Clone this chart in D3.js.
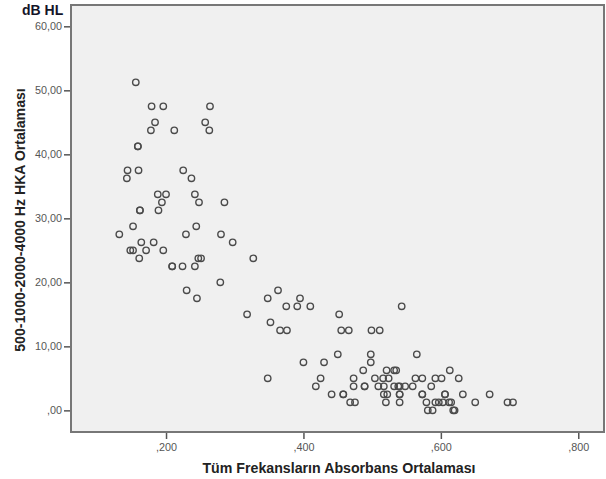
<!DOCTYPE html>
<html><head><meta charset="utf-8">
<script src="https://cdn.jsdelivr.net/npm/d3@7"></script>
<style>body{margin:0;background:#fff}svg{display:block}</style>
</head><body>
<script>
// Absorbance mean (x) and PTA mean dB HL (y)
const absorbans = [
0.156,0.179,0.196,0.264,0.184,0.178,0.212,0.257,0.263,0.159,0.159,
0.144,0.160,0.143,0.225,0.237,0.188,0.200,0.242,0.194,0.248,0.285,
0.162,0.162,0.189,0.152,0.244,0.132,0.229,0.280,0.164,0.182,0.297,
0.148,0.152,0.171,0.196,0.161,0.247,0.251,0.327,0.209,0.209,0.224,0.242,
0.279,0.230,0.245,0.348,0.363,0.395,0.375,0.391,0.410,0.318,0.352,0.348,
0.366,0.376,0.452,0.543,0.455,0.466,0.499,0.511,
0.400,0.430,0.450,0.498,0.498,0.565,
0.487,0.521,0.532,0.535,0.613,
0.425,0.473,0.504,0.516,0.524,0.563,0.573,0.592,0.601,0.626,
0.418,0.473,0.489,0.489,0.509,0.517,0.532,0.538,0.540,0.548,0.559,0.586,
0.441,0.458,0.458,0.517,0.522,0.540,0.540,0.573,0.573,0.606,0.606,0.632,0.671,
0.468,0.475,0.520,0.540,0.579,0.592,0.597,0.603,0.612,0.615,0.650,0.697,0.705,
0.581,0.588,0.618,0.620
];
const hka = [
51.25,47.5,47.5,47.5,45,43.75,43.75,45,43.75,41.25,41.25,
37.5,37.5,36.25,37.5,36.25,33.75,33.75,33.75,32.5,32.5,32.5,
31.25,31.25,31.25,28.75,28.75,27.5,27.5,27.5,26.25,26.25,26.25,
25,25,25,25,23.75,23.75,23.75,23.75,22.5,22.5,22.5,22.5,
20,18.75,17.5,17.5,18.75,17.5,16.25,16.25,16.25,15,13.75,5,
12.5,12.5,15,16.25,12.5,12.5,12.5,12.5,
7.5,7.5,8.75,8.75,7.5,8.75,
6.25,6.25,6.25,6.25,6.25,
5,5,5,5,5,5,5,5,5,5,
3.75,3.75,3.75,3.75,3.75,3.75,3.75,3.75,3.75,3.75,3.75,3.75,
2.5,2.5,2.5,2.5,2.5,2.5,2.5,2.5,2.5,2.5,2.5,2.5,2.5,
1.25,1.25,1.25,1.25,1.25,1.25,1.25,1.25,1.25,1.25,1.25,1.25,1.25,
0,0,0,0
];
const xTicks = [0.2,0.4,0.6,0.8];
const yTicks = [0,10,20,30,40,50,60];
const xTitle = "Tüm Frekansların Absorbans Ortalaması";
const yTitle = "500-1000-2000-4000 Hz HKA Ortalaması";
const unitLabel = "dB HL";

const W=606,H=479;
const L=71,R=605,T=5,B=432;
const fmt = d => d3.format(".3f")(d).replace(/^0\./,",").replace(".",",");
const fmtY = d => d===0 ? ",00" : d3.format(".2f")(d).replace(".",",");

const x = d3.scaleLinear().domain([0.0617,0.8389]).range([L,R]);
const y = d3.scaleLinear().domain([-3.38,63.33]).range([B,T]);

const svg = d3.select("body").append("svg").attr("width",W).attr("height",H)
  .style("font-family","'Liberation Sans', Arial, sans-serif");

svg.append("rect").attr("x",L).attr("y",T).attr("width",R-L).attr("height",B-T)
  .attr("fill","#f0f0f0");

const data = absorbans.map((d,i)=>({x:d,y:hka[i]}));
svg.append("g").selectAll("circle").data(data).join("circle")
  .attr("cx",d=>x(d.x)).attr("cy",d=>y(d.y)).attr("r",3.2)
  .attr("fill","none").attr("stroke","#4a4a4a").attr("stroke-width",1.4);

svg.append("rect").attr("x",L).attr("y",T).attr("width",R-L-1).attr("height",B-T)
  .attr("fill","none").attr("stroke","#777").attr("stroke-width",2);

const yAxis = svg.append("g").attr("transform",`translate(${L-1},0)`)
  .call(d3.axisLeft(y).tickValues(yTicks).tickFormat(fmtY).tickSize(6).tickPadding(2));
const xAxis = svg.append("g").attr("transform",`translate(0,${B+1})`)
  .call(d3.axisBottom(x).tickValues(xTicks).tickFormat(fmt).tickSize(6).tickPadding(4));
[xAxis,yAxis].forEach(a=>{
  a.select(".domain").remove();
  a.selectAll(".tick line").attr("stroke","#555").attr("stroke-width",1.5);
  a.selectAll(".tick text").attr("fill","#555").style("font-size","10.8px")
    .style("font-family","'Liberation Sans', Arial, sans-serif");
});

svg.append("text").attr("x",(L+R)/2+1).attr("y",473).attr("text-anchor","middle")
  .style("font-size","14.2px").style("font-weight","bold").attr("fill","#222").text(xTitle);
svg.append("text").attr("transform",`translate(25,220) rotate(-90)`)
  .attr("text-anchor","middle").style("font-size","14.1px").style("font-weight","bold")
  .attr("fill","#222").text(yTitle);
svg.append("text").attr("x",22).attr("y",15).style("font-size","14px")
  .style("font-weight","bold").attr("fill","#141428").text(unitLabel);
</script>
</body></html>
